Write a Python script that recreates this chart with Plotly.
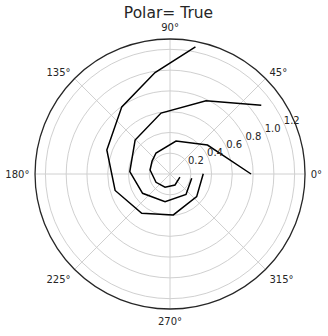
import plotly.graph_objects as go

# Three spiral strands (theta in degrees, r in data units)
theta_a = [-18, -65.6, -110.7, -149.3, -191.3, -215.8, -236.3, -280.3, -322.3, -360]
r_a = [0.10, 0.116, 0.136, 0.157, 0.196, 0.213, 0.243, 0.323, 0.456, 0.78]

theta_b = [-11.2, -52, -100.2, -144.9, -183.3, -224.2, -261.6, -296.2, -323]
r_b = [0.213, 0.25, 0.27, 0.323, 0.388, 0.469, 0.593, 0.785, 1.10]

theta_c = [0.5, -40.4, -85.4, -125.8, -163.3, -200.8, -234.3, -261.6, -281.3]
r_c = [0.32, 0.337, 0.395, 0.466, 0.552, 0.651, 0.796, 0.988, 1.248]

radial_ticks = [0.2, 0.4, 0.6, 0.8, 1.0, 1.2]
radial_labels = ["0.2", "0.4", "0.6", "0.8", "1.0", "1.2"]
angle_ticks = [0, 45, 90, 135, 180, 225, 270, 315]
angle_labels = ["0°", "45°", "90°", "135°", "180°", "225°", "270°", "315°"]

W, H = 328, 336
ML, MR, MT, MB = 34.5, 4.5, 38.5, 26.5
PW = W - ML - MR          # plot width
SIDE = H - MT - MB        # polar square side
SHIFT = 17.5              # matplotlib puts radial labels right of the tick point

fig = go.Figure()
for th, rr in [(theta_a, r_a), (theta_b, r_b), (theta_c, r_c)]:
    fig.add_trace(go.Scatterpolar(
        theta=th, r=rr, mode="lines",
        line=dict(color="black", width=1.5),
        showlegend=False, hoverinfo="skip", subplot="polar",
    ))
# invisible carrier for the label-only overlay subplot
fig.add_trace(go.Scatterpolar(
    theta=theta_c, r=r_c, mode="lines",
    line=dict(color="rgba(0,0,0,0)", width=0),
    showlegend=False, hoverinfo="skip", subplot="polar2",
))

fig.update_layout(
    width=W, height=H,
    margin=dict(l=ML, r=MR, t=MT, b=MB),
    paper_bgcolor="white",
    font=dict(family="DejaVu Sans", color="#262626", size=10),
    title=dict(text="Polar= True", x=168.5 / W, xanchor="center", xref="container",
               y=1 - 12.5 / H, yanchor="middle",
               font=dict(size=15.5, color="#262626")),
    polar=dict(
        domain=dict(x=[0, SIDE / PW], y=[0, 1]),
        bgcolor="white",
        radialaxis=dict(
            range=[0, 1.3], tickvals=radial_ticks, showticklabels=False,
            angle=22.5, showline=False, ticks="",
            gridcolor="#d0d0d0", gridwidth=1,
        ),
        angularaxis=dict(
            rotation=0, direction="counterclockwise",
            tickvals=angle_ticks, ticktext=angle_labels,
            showline=True, linecolor="#262626", linewidth=1.3,
            ticks="outside", ticklen=3, tickcolor="rgba(0,0,0,0)",
            gridcolor="#d0d0d0", gridwidth=1,
            tickfont=dict(size=10, color="#262626"),
        ),
    ),
    polar2=dict(
        domain=dict(x=[SHIFT / PW, (SIDE + SHIFT) / PW], y=[0, 1]),
        bgcolor="rgba(0,0,0,0)",
        radialaxis=dict(
            range=[0, 1.3], tickvals=radial_ticks, ticktext=radial_labels,
            angle=22.5, tickangle=22.5, side="counterclockwise",
            showline=False, ticks="", showgrid=False,
            tickfont=dict(size=10, color="#262626"),
        ),
        angularaxis=dict(visible=False, showgrid=False, showline=False),
    ),
)

fig.write_html("out.html")
